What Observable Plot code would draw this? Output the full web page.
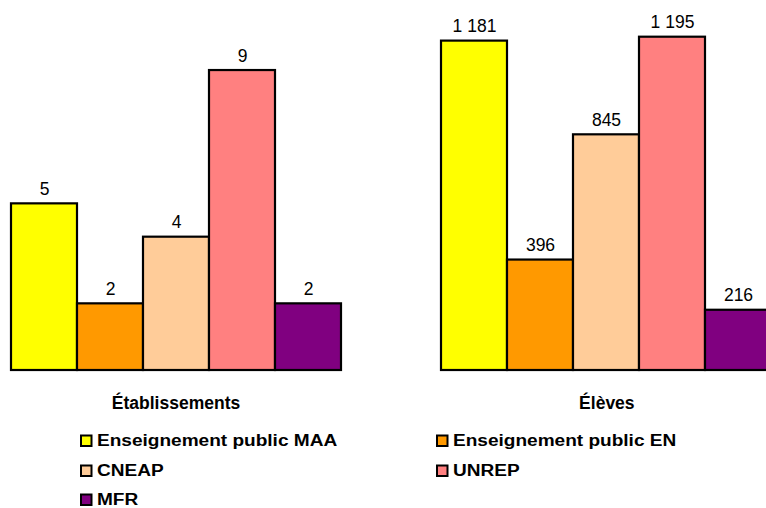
<!DOCTYPE html>
<html>
<head>
<meta charset="utf-8">
<script src="https://cdn.jsdelivr.net/npm/d3@7"></script>
<script src="https://cdn.jsdelivr.net/npm/@observablehq/plot@0.6"></script>
<style>
  html, body { margin: 0; padding: 0; background: #fff; }
  body { width: 766px; height: 508px; overflow: hidden; position: relative; font-family: "Liberation Sans", Arial, sans-serif; }
  .panel { position: absolute; top: 0; }
  .panel svg { max-width: none !important; }
  #legend { position: absolute; left: 0; top: 0; }
</style>
</head>
<body>
<div id="left" class="panel" style="left:0px; width:380px"></div>
<div id="right" class="panel" style="left:380px; width:400px"></div>
<svg id="legend" width="766" height="508"></svg>
<script>
// ---- data ----
const categories = ["Enseignement public MAA", "Enseignement public EN", "CNEAP", "UNREP", "MFR"];
const colors = ["#FFFF00", "#FF9900", "#FFCC99", "#FF8080", "#800080"];
const etablissements = [5, 2, 4, 9, 2];
const eleves = [1181, 396, 845, 1195, 216];
const panelTitles = ["Établissements", "Élèves"];
const yMaxLeft = 10;
const yMaxRight = 1195;

const fr = d3.formatLocale({decimal: ",", thousands: " ", grouping: [3], currency: ["", " €"]});
const fmt = fr.format(",d");

const FONT = "'Liberation Sans', Arial, sans-serif";

function panel(values, title, yMax, width, ml, mr) {
  const data = categories.map((c, i) => ({cat: c, value: values[i], label: fmt(values[i])}));
  return Plot.plot({
    width, height: 420,
    marginLeft: ml, marginRight: mr, marginTop: 36.7, marginBottom: 50,
    style: {fontFamily: FONT, background: "transparent", overflow: "visible", maxWidth: "none"},
    x: {domain: categories, padding: 0, axis: null},
    y: {domain: [0, yMax], axis: null},
    color: {domain: categories, range: colors},
    marks: [
      Plot.barY(data, {x: "cat", y: "value", fill: "cat", stroke: "#000", strokeWidth: 2.2, insetLeft: 0, insetRight: 0}),
      Plot.text(data, {x: "cat", y: "value", text: "label", dy: -9, lineAnchor: "bottom", fontSize: 17.5, fill: "#000"}),
      Plot.text([title], {frameAnchor: "bottom", dy: 38, lineAnchor: "bottom", fontSize: 17.5, fontWeight: "bold", fill: "#000", letterSpacing: 0.4})
    ]
  });
}

document.getElementById("left").append(panel(etablissements, panelTitles[0], yMaxLeft, 380, 9, 38));
document.getElementById("right").append(panel(eleves, panelTitles[1], yMaxRight, 400, 60.7, 8));

// ---- legend ----
const lg = d3.select("#legend");
const colX = [80, 436];
const rowY = [446, 476, 505];
categories.forEach((c, i) => {
  const x = colX[i % 2], y = rowY[Math.floor(i / 2)];
  lg.append("rect").attr("x", x + 1).attr("y", y - 10.5).attr("width", 10.5).attr("height", 10.5)
    .attr("fill", colors[i]).attr("stroke", "#000").attr("stroke-width", 2);
  const t = lg.append("text").attr("x", x + 17).attr("y", y).text(c)
    .attr("font-family", FONT).attr("font-weight", "bold").attr("font-size", 16)
    .attr("fill", "#000");
  const natural = t.node().getComputedTextLength();
  t.attr("textLength", natural * 1.19).attr("lengthAdjust", "spacingAndGlyphs");
});
</script>
</body>
</html>
